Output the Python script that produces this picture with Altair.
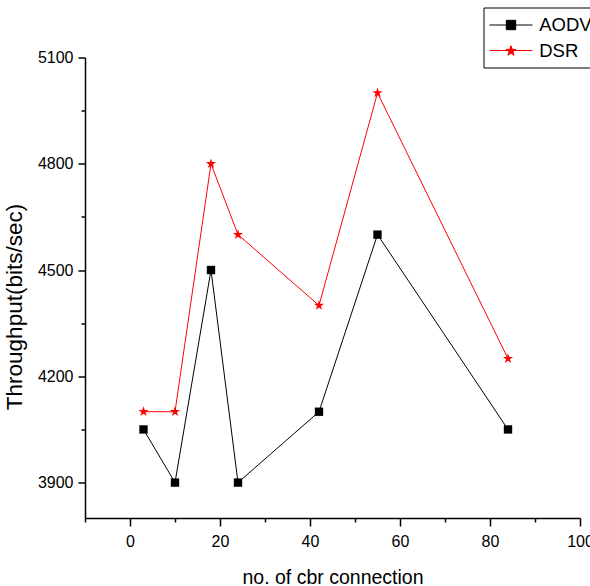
import altair as alt
import pandas as pd

# ---- data ----
x_cbr = [3, 10, 18, 24, 42, 55, 84]
aodv = [4050, 3900, 4500, 3900, 4100, 4600, 4050]
dsr = [4100, 4100, 4800, 4600, 4400, 5000, 4250]
series_names = ["AODV", "DSR"]
series_colors = ["black", "red"]

x_tick_values = [-10, 0, 10, 20, 30, 40, 50, 60, 70, 80, 90, 100]
y_tick_values = [3900, 4050, 4200, 4350, 4500, 4650, 4800, 4950, 5100]

rows = []
for xv, yv in zip(x_cbr, aodv):
    rows.append({"x": xv, "y": yv, "series": "AODV"})
for xv, yv in zip(x_cbr, dsr):
    rows.append({"x": xv, "y": yv, "series": "DSR"})
df = pd.DataFrame(rows)

FONT = "Liberation Sans"

STAR_PTS = [(0, -1), (0.225, -0.309), (0.951, -0.309), (0.363, 0.118), (0.588, 0.809),
            (0, 0.382), (-0.588, 0.809), (-0.363, 0.118), (-0.951, -0.309), (-0.225, -0.309)]
STAR = "M" + "L".join(f"{px},{py}" for px, py in STAR_PTS) + "Z"

# legend symbols (unit = 10 px): a line with the marker in its middle
LC = 1.0  # marker centre, shifted right inside the symbol column
LEG_SQ = f"M-1.15,0H3.15M{LC-0.47},-0.47H{LC+0.47}V0.47H{LC-0.47}Z"
r = 0.53
LEG_STAR = "M-1.15,0H3.15M" + "L".join(
    f"{LC + px*r:.3f},{py*r + 0.05:.3f}" for px, py in STAR_PTS) + "Z"

x_axis = alt.Axis(
    values=x_tick_values,
    labelExpr="datum.value % 20 == 0 ? datum.label : ''",
    tickSize={"condition": {"test": "datum.value % 20 != 0", "value": 4}, "value": 8},
    grid=False,
    labelPadding=7,
    labelFontSize=16,
    title="no. of cbr connection",
    titleFontSize=19.5,
    titleFontWeight="normal",
    titleBaseline="alphabetic",
    titleY=65,
)
y_axis = alt.Axis(
    values=y_tick_values,
    labelExpr="(datum.value - 3900) % 300 == 0 ? datum.label : ''",
    tickSize={"condition": {"test": "(datum.value - 3900) % 300 != 0", "value": 4}, "value": 7},
    grid=False,
    labelPadding=5,
    labelFontSize=16,
    format="d",
    title="Throughput(bits/sec)",
    titleFontSize=22.5,
    titleFontWeight="normal",
    titleBaseline="alphabetic",
    titleX=-64,
    titleY=249,
)

base = alt.Chart(df).encode(
    x=alt.X("x:Q", scale=alt.Scale(domain=[-10, 100], nice=False, zero=False), axis=x_axis),
    y=alt.Y("y:Q", scale=alt.Scale(domain=[3800, 5100], nice=False, zero=False), axis=y_axis),
)

aodv_line = base.transform_filter(alt.datum.series == "AODV").mark_line(color="black", strokeWidth=1)
dsr_line = base.transform_filter(alt.datum.series == "DSR").mark_line(color="red", strokeWidth=1)
aodv_pts = base.transform_filter(alt.datum.series == "AODV").mark_point(
    shape="square", filled=True, size=70, color="black", opacity=1)
dsr_pts = base.transform_filter(alt.datum.series == "DSR").mark_point(
    shape=STAR, filled=True, size=115, color="red", opacity=1)

leg = alt.Legend(
    title=None,
    orient="none",
    legendX=398.5,
    legendY=-50,
    padding=7,
    strokeColor="black",
    fillColor="white",
    symbolSize=400,
    symbolStrokeWidth=1,
    labelFontSize=18.5,
    labelFont=FONT,
    labelColor="black",
    labelOffset=27.7,
    rowPadding=5.5,
)
legend_layer = base.transform_filter("false").mark_point(filled=True, opacity=1, strokeWidth=1).encode(
    fill=alt.Fill("series:N", scale=alt.Scale(domain=series_names, range=series_colors), legend=leg),
    stroke=alt.Stroke("series:N", scale=alt.Scale(domain=series_names, range=series_colors), legend=leg),
    shape=alt.Shape("series:N", scale=alt.Scale(domain=series_names, range=[LEG_SQ, LEG_STAR]), legend=leg),
)

chart = alt.layer(aodv_line, dsr_line, aodv_pts, dsr_pts, legend_layer).properties(
    width=495,
    height=460.5,
    autosize="none",
    background="white",
    padding={"left": 85, "top": 57.5, "right": 10, "bottom": 68},
).configure_view(stroke=None).configure_axis(
    grid=False,
    domainColor="black",
    domainWidth=1.5,
    tickColor="black",
    tickWidth=1.5,
    labelColor="black",
    labelFont=FONT,
    titleFont=FONT,
    titleColor="black",
    titleFontWeight="normal",
    labelFlush=False,
    labelOverlap=False,
).configure_legend(strokeWidth=1)

chart.save("out.html", embed_options={"renderer": "svg", "actions": False})
